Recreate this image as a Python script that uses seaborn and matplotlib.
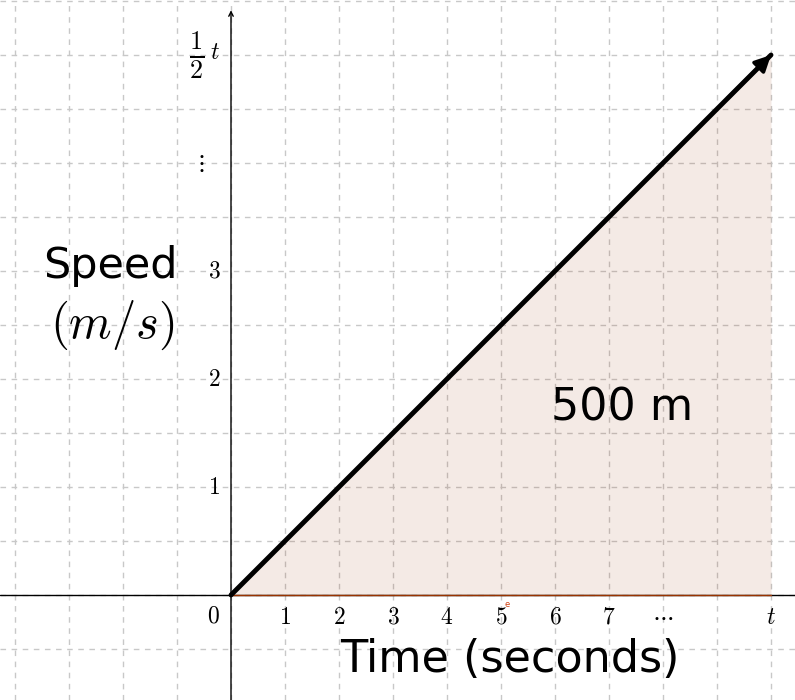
import numpy as np
import seaborn as sns
import matplotlib.pyplot as plt

# data
time = [0, 10]
speed = [0, 5]
x_ticks = [1, 2, 3, 4, 5, 6, 7, 8, 10]
x_tick_labels = ['1', '2', '3', '4', '5', '6', '7', r'\cdots', 't']
y_ticks = [1, 2, 3, 4, 5]
y_tick_labels = ['1', '2', '3', r'\vdots', r'\frac{1}{2}\,t']
area_label = '500 m'

sns.set_style("white")
plt.rcParams['mathtext.fontset'] = 'cm'
plt.rcParams['font.family'] = ['DejaVu Sans']
plt.rcParams['text.color'] = 'black'

fig = plt.figure(figsize=(7.95, 7.0), dpi=100)
ax = fig.add_axes([0, 0, 1, 1])
ax.set_xlim(-231 / 54, 564 / 54)
ax.set_ylim(-105 / 108, 595 / 108)

# grid
ax.set_xticks(np.arange(-4, 11))
ax.set_yticks(np.arange(-0.5, 5.6, 0.5))
ax.grid(True, ls=(0, (4, 4)), color='#c8c8c8', lw=1)
ax.tick_params(length=0, labelbottom=False, labelleft=False)
for s in ax.spines.values():
    s.set_visible(False)

# axes
ax.axhline(0, color='black', lw=1, zorder=3)
ax.annotate('', xy=(0, 5.44), xytext=(0, -1.0),
            arrowprops=dict(arrowstyle='->', lw=1, color='black', mutation_scale=8), zorder=3)

# area
ax.fill_between(time, speed, color='#993300', alpha=0.1, lw=0, zorder=2)
ax.plot(time, [0, 0], color='#993300', lw=1, zorder=3)

# speed line
sns.lineplot(x=time, y=speed, ax=ax, color='black', lw=3.5, zorder=4)
ax.annotate('', xy=(time[-1], speed[-1]), xytext=(time[-1] - 0.8, speed[-1] - 0.4),
            arrowprops=dict(arrowstyle='-|>', lw=2.6, color='black', mutation_scale=24,
                            shrinkA=0, shrinkB=0), zorder=5)

# tick labels
ax.text(-0.33, -0.19, r'$0$', fontsize=17, ha='center', va='center')
for x, lab in zip(x_ticks, x_tick_labels):
    ax.text(x, -0.2, '$' + lab + '$', fontsize=17, ha='center', va='center', zorder=4)
for y, lab in zip(y_ticks, y_tick_labels):
    if lab.startswith(r'\frac'):
        frac, var = lab.split(r'\,')
        ax.text(-0.63, y, '$' + frac + '$', fontsize=27, ha='center', va='center', zorder=4)
        ax.text(-0.3, y + 0.03, '$' + var + '$', fontsize=17, ha='center', va='center', zorder=4)
        continue
    xx = -0.57 if lab.startswith(r'\vdots') else -0.31
    ax.text(xx, y, '$' + lab + '$', fontsize=17, ha='center', va='center', zorder=4)
ax.text(5.12, -0.09, 'e', fontsize=6, color='#d04010', ha='center', va='center')

# labels
ax.text(-2.24, 3.05, 'Speed', fontsize=31, ha='center', va='center')
ax.text(-2.2, 2.5, r'$(m/s)$', fontsize=35, ha='center', va='center')
ax.text(7.24, 1.73, area_label, fontsize=32, ha='center', va='center', zorder=4)
ax.text(5.17, -0.6, 'Time (seconds)', fontsize=32, ha='center', va='center', zorder=4)

fig.savefig('out.png', dpi=100)
